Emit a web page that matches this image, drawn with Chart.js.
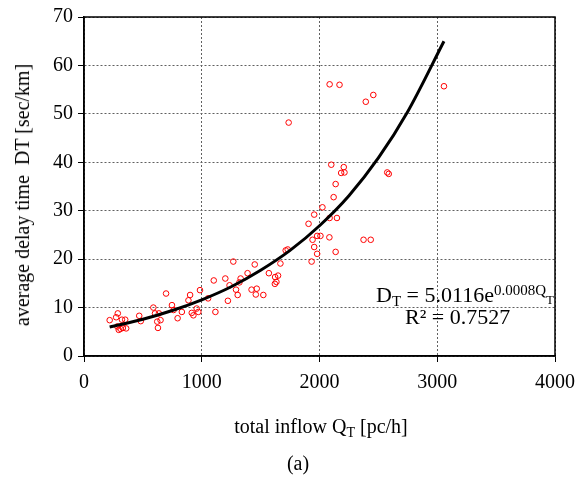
<!DOCTYPE html>
<html>
<head>
<meta charset="utf-8">
<script src="https://cdn.jsdelivr.net/npm/chart.js@4"></script>
<style>
    body { margin: 0; background: #ffffff; }
    #wrap { position: relative; width: 584px; height: 477px; font-family: 'Liberation Serif', 'Times New Roman', serif; color: #000; }
    .lbl { position: absolute; white-space: nowrap; font-size: 20px; line-height: 1; }
    .lbl sub { font-size: 14px; vertical-align: -4px; }
    .eq { font-size: 22px; }
    .eq sub { font-size: 15px; vertical-align: -4px; }
    .eq sup { font-size: 15px; vertical-align: 7px; }
    .eq sup sub { font-size: 13px; vertical-align: -9px; }
</style>
</head>
<body>
<div id="wrap">
    <canvas id="delayChart" width="584" height="477"></canvas>
    <div class="lbl" id="yTitle" style="left:22px;top:195px;transform:translate(-50%,-50%) rotate(-90deg);">average delay time&nbsp; DT [sec/km]</div>
    <div class="lbl" id="xTitle" style="left:321px;top:428px;transform:translate(-50%,-50%);">total inflow Q<sub>T</sub> [pc/h]</div>
    <div class="lbl" id="caption" style="left:298px;top:463px;transform:translate(-50%,-50%);">(a)</div>
    <div class="lbl eq" id="equation" style="left:376px;top:283px;">D<sub>T</sub> = 5.0116e<sup>0.0008Q<sub>T</sub></sup></div>
    <div class="lbl eq" id="rSquared" style="left:405px;top:306px;">R² = 0.7527</div>
</div>
<script>
// observed points: total inflow (pc/h) and average delay (sec/km)
const inflowQ = [
    218, 273, 287, 283, 295, 310, 330, 358, 322, 350,
    469, 482, 589, 603, 636, 622, 650, 628, 697, 747,
    761, 795, 831, 887, 901, 915, 929, 957, 971, 985,
    1054, 1102, 1116, 1200, 1222, 1236, 1268, 1291, 1305, 1320,
    1330, 1389, 1423, 1450, 1459, 1467, 1523, 1570, 1623, 1648,
    1634, 1621, 1668, 1713, 1730, 1738, 1907, 1955, 1933, 1941,
    1955, 1980, 1980, 2008, 2025, 2086, 2148, 2120, 2137, 2084,
    2137, 2374, 2435, 2086, 2170, 2393, 2457, 3057, 2100, 2206,
    2184, 2212, 2575, 2588
];
const delayD = [
    7.4, 8.0, 8.8, 6.1, 5.4, 5.6, 5.8, 5.7, 7.5, 7.5,
    8.3, 7.2, 10.0, 8.8, 8.8, 7.1, 7.4, 5.8, 12.9, 10.5,
    9.5, 7.8, 9.1, 11.5, 12.6, 8.9, 8.4, 9.8, 9.1, 13.6,
    11.9, 15.6, 9.1, 16.0, 11.4, 14.6, 19.5, 13.7, 12.6, 15.2,
    16.0, 17.1, 13.7, 18.9, 12.7, 13.9, 12.6, 17.1, 16.3, 16.6,
    15.3, 14.9, 19.1, 21.8, 22.0, 48.2, 27.3, 29.2, 19.5, 24.0,
    22.5, 21.1, 24.8, 24.8, 30.7, 28.5, 28.5, 32.8, 35.5, 24.5,
    21.5, 24.0, 24.0, 56.1, 56.0, 52.5, 53.9, 55.7, 39.5, 39.0,
    37.8, 37.9, 37.9, 37.6
];

// fitted trend curve
const curveQ = [218, 500, 750, 1000, 1250, 1500, 1750, 2000, 2250, 2500, 2750, 3057];
const curveD = [6.0, 7.6, 9.4, 11.6, 14.3, 17.7, 21.8, 26.9, 33.1, 40.9, 50.5, 65.0];

const xTicks = [0, 1000, 2000, 3000, 4000];
const yTicks = [0, 10, 20, 30, 40, 50, 60, 70];

const points = inflowQ.map((q, i) => ({ x: q, y: delayD[i] }));
const trend = curveQ.map((q, i) => ({ x: q, y: curveD[i] }));

// solid frame round the plot area
const frameBox = {
    id: 'frameBox',
    afterDraw(chart) {
        const { ctx, chartArea: a } = chart;
        ctx.save();
        ctx.strokeStyle = '#000000';
        ctx.lineWidth = 1.5;
        ctx.strokeRect(a.left, a.top, a.right - a.left, a.bottom - a.top);
        ctx.restore();
    }
};

const tickFont = { family: "'Liberation Serif', 'Times New Roman', serif", size: 20 };

const ctx = document.getElementById('delayChart').getContext('2d');
new Chart(ctx, {
    type: 'scatter',
    data: {
        datasets: [
            {
                label: 'trend',
                type: 'line',
                data: trend,
                borderColor: '#000000',
                borderWidth: 3,
                pointRadius: 0,
                fill: false,
                cubicInterpolationMode: 'monotone',
                order: 0
            },
            {
                label: 'observed',
                data: points,
                pointStyle: 'circle',
                pointRadius: 2.8,
                pointBorderWidth: 1,
                pointBorderColor: '#ff0000',
                pointBackgroundColor: 'rgba(0,0,0,0)',
                order: 1
            }
        ]
    },
    options: {
        responsive: false,
        animation: false,
        layout: { padding: { left: 0, top: 16, right: 22, bottom: 0 } },
        plugins: {
            legend: { display: false },
            tooltip: { enabled: false }
        },
        scales: {
            x: {
                type: 'linear',
                min: 0,
                max: 4000,
                afterBuildTicks: (scale) => { scale.ticks = xTicks.map(v => ({ value: v })); },
                afterFit: (scale) => { scale.height = 121; },
                ticks: { color: '#000000', font: tickFont, padding: 9, maxRotation: 0, callback: (v) => String(v) },
                grid: { color: '#606060', lineWidth: 1, tickLength: 6, tickColor: '#000000', tickBorderDash: [] },
                border: { color: '#000000', width: 1.5, dash: [2, 2] }
            },
            y: {
                type: 'linear',
                min: 0,
                max: 70,
                afterBuildTicks: (scale) => { scale.ticks = yTicks.map(v => ({ value: v })); },
                afterFit: (scale) => { scale.width = 84; },
                ticks: { color: '#000000', font: tickFont, padding: 5, callback: (v) => String(v) },
                grid: { color: '#606060', lineWidth: 1, tickLength: 6, tickColor: '#000000', tickBorderDash: [] },
                border: { color: '#000000', width: 1.5, dash: [2, 2] }
            }
        }
    },
    plugins: [frameBox]
});
</script>
</body>
</html>
